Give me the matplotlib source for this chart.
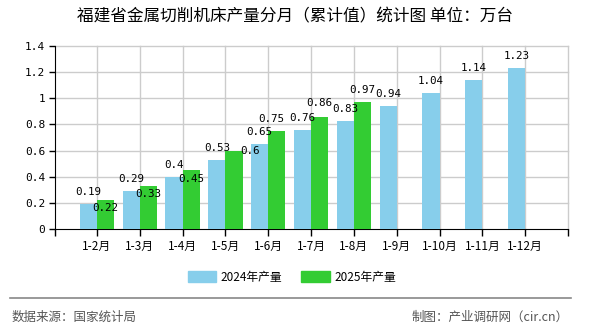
import numpy as np
import matplotlib
matplotlib.use("Agg")
import matplotlib.pyplot as plt
from matplotlib.patches import Patch
from matplotlib.transforms import offset_copy

plt.rcParams['font.family'] = ['Noto Sans CJK SC', 'DejaVu Sans']

# 数据
months = ['1-2月', '1-3月', '1-4月', '1-5月', '1-6月', '1-7月', '1-8月', '1-9月', '1-10月', '1-11月', '1-12月']
y2024 = [0.19, 0.29, 0.4, 0.53, 0.65, 0.76, 0.83, 0.94, 1.04, 1.14, 1.23]
y2025 = [0.22, 0.33, 0.45, 0.6, 0.75, 0.86, 0.97]
label2024 = ['0.19', '0.29', '0.4', '0.53', '0.65', '0.76', '0.83', '0.94', '1.04', '1.14', '1.23']
label2025 = ['0.22', '0.33', '0.45', '0.6', '0.75', '0.86', '0.97']

c24 = '#87CEEB'
c25 = '#33CC33'
mono = 'DejaVu Sans Mono'

fig = plt.figure(figsize=(5.9, 3.3), dpi=100)
ax = fig.add_axes([55 / 590, 101 / 330, 513 / 590, 183 / 330])

x = np.arange(len(months))
w = 0.4
ax.bar(x[:len(y2024)] - w / 2, y2024, width=w, color=c24, zorder=3)
ax.bar(x[:len(y2025)] + w / 2, y2025, width=w, color=c25, zorder=3)

ax.set_xlim(-0.98, 11.0)
ax.set_ylim(0, 1.4)

# 网格
yt = np.arange(0, 1.41, 0.2)
ax.set_yticks(yt)
ax.set_yticklabels(['0', '0.2', '0.4', '0.6', '0.8', '1', '1.2', '1.4'], fontsize=8, family=mono)
for v in yt[1:]:
    ax.axhline(v, color='#cccccc', lw=1, zorder=1, clip_on=False)
for xi in list(x) + [11.0]:
    ax.axvline(xi, color='#cccccc', lw=1, zorder=1, clip_on=False)

ax.set_xticks(list(x) + [-0.98, 11.0])
ax.set_xticklabels(months + ['', ''], fontsize=8.5)
ax.tick_params(axis='x', length=5, width=1, color='black', pad=3)
ax.tick_params(axis='y', length=4, width=1, color='black', pad=3)

for s in ['top', 'right']:
    ax.spines[s].set_visible(False)
ax.spines['left'].set_color('black')
ax.spines['bottom'].set_color('black')

# 数值标签
for i, v in enumerate(y2024):
    tr = offset_copy(ax.transData, fig=fig, x=0, y=12 * 0.72, units='points')
    ax.text(x[i] - w / 2, v, label2024[i], transform=tr, ha='center', va='center',
            fontsize=7.8, family=mono, zorder=5)

# 2025 标签偏移 (像素)
shift25 = [(0, -8), (0, -8), (0, -9), (16, 0), (-6, 12), (0, 14), (0, 12)]
for i, v in enumerate(y2025):
    dx, dy = shift25[i]
    tr = offset_copy(ax.transData, fig=fig, x=dx * 0.72, y=dy * 0.72, units='points')
    ax.text(x[i] + w / 2, v, label2025[i], transform=tr, ha='center', va='center',
            fontsize=7.8, family=mono, zorder=5)

# 标题
fig.text(0.5, 1 - 17 / 330, '福建省金属切削机床产量分月（累计值）统计图 单位：万台',
         ha='center', va='center', fontsize=12)

# 图例
handles = [Patch(color=c24, label='2024年产量'), Patch(color=c25, label='2025年产量')]
fig.legend(handles=handles, loc='center', bbox_to_anchor=(292 / 590, 1 - 277 / 330), ncol=2,
           frameon=False, fontsize=8.5, handlelength=2.4, handleheight=1.0, columnspacing=1.6,
           handletextpad=0.4)

# 底部
fig.add_artist(plt.Line2D([10 / 590, 571 / 590], [1 - 298 / 330] * 2, color='#888888', lw=1.2))
fig.text(12 / 590, 1 - 317 / 330, '数据来源：国家统计局', ha='left', va='center', fontsize=9, color='#555555')
fig.text(569 / 590, 1 - 317 / 330, '制图：产业调研网（cir.cn）', ha='right', va='center', fontsize=9, color='#555555')

fig.savefig('out.png', dpi=100)
